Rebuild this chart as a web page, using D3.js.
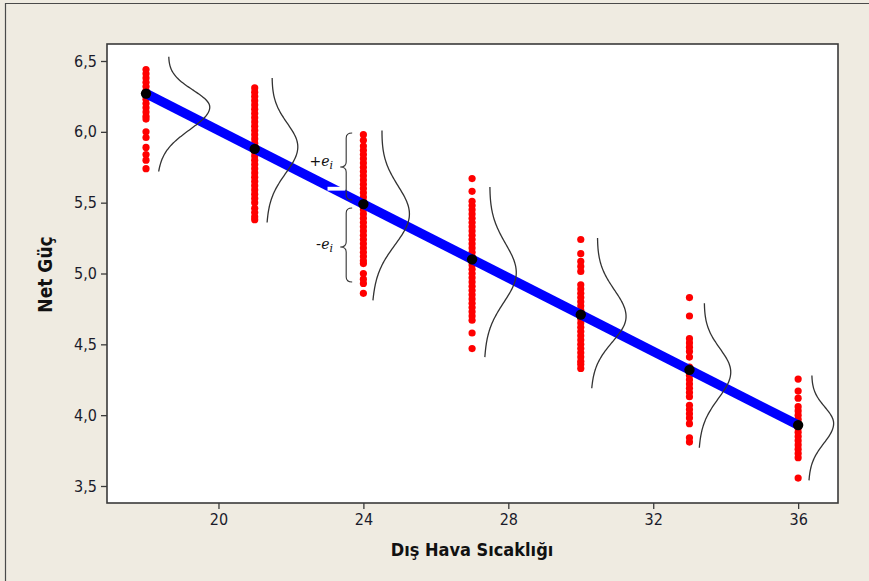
<!DOCTYPE html>
<html>
<head>
<meta charset="utf-8">
<script src="https://cdn.jsdelivr.net/npm/d3@7"></script>
<style>
  html, body { margin: 0; padding: 0; background: #EFEBE1; }
  svg { display: block; }
  .tick text { font-family: "DejaVu Sans Condensed", "DejaVu Sans", sans-serif; font-stretch: condensed; font-size: 16px; fill: #1b1b2b; }
</style>
</head>
<body>
<script>
// ---------- data ----------
const temps = [18, 21, 24, 27, 30, 33, 36];
const fitted = [6.27, 5.88, 5.49, 5.10, 4.71, 4.32, 3.93];
const obs18 = [6.44,6.41,6.38,6.35,6.32,6.29,6.26,6.23,6.20,6.17,6.14,6.11,6.09,6.00,5.96,5.89,5.84,5.80,5.74];
const obs21 = [6.31,6.28,6.25,6.22,6.19,6.16,6.13,6.10,6.07,6.04,6.01,5.98,5.95,5.92,5.89,5.86,5.83,5.80,5.77,5.74,5.71,5.68,5.65,5.62,5.59,5.56,5.53,5.50,5.46,5.43,5.40,5.38];
const obs24 = [5.98,5.94,5.90,5.87,5.84,5.81,5.78,5.75,5.72,5.69,5.66,5.63,5.60,5.57,5.54,5.51,5.48,5.45,5.42,5.39,5.36,5.33,5.30,5.27,5.24,5.21,5.18,5.15,5.12,5.09,5.07,5.00,4.96,4.93,4.86];
const obs27 = [5.67,5.58,5.51,5.48,5.45,5.42,5.39,5.36,5.33,5.30,5.27,5.24,5.21,5.18,5.15,5.12,5.09,5.06,5.03,5.00,4.97,4.94,4.91,4.88,4.85,4.82,4.79,4.76,4.73,4.70,4.67,4.58,4.47];
const obs30 = [5.24,5.14,5.085,5.05,5.015,4.92,4.89,4.86,4.83,4.80,4.77,4.74,4.71,4.68,4.65,4.62,4.59,4.56,4.53,4.50,4.47,4.44,4.41,4.38,4.36,4.33];
const obs33 = [4.83,4.70,4.54,4.51,4.48,4.45,4.41,4.34,4.31,4.28,4.25,4.22,4.19,4.16,4.13,4.07,4.04,4.01,3.98,3.94,3.84,3.81];
const obs36 = [4.255,4.17,4.12,4.06,4.03,4.00,3.97,3.94,3.91,3.88,3.85,3.82,3.79,3.76,3.73,3.70,3.556];
const observations = [obs18, obs21, obs24, obs27, obs30, obs33, obs36];

// normal-curve sketches next to each column: top, peak, bottom (x, y in data units)
const curveTopX    = [18.61, 21.47, 24.50, 27.48, 30.45, 33.40, 36.37];
const curveTopY    = [6.53, 6.38, 6.01, 5.61, 5.25, 4.79, 4.28];
const curvePeakX   = [19.76, 22.19, 25.27, 28.22, 31.25, 34.14, 36.98];
const curvePeakY   = [6.17, 5.89, 5.41, 5.00, 4.69, 4.30, 3.94];
const curveBottomX = [18.33, 21.33, 24.25, 27.34, 30.29, 33.26, 36.29];
const curveBottomY = [5.72, 5.36, 4.81, 4.41, 4.19, 3.77, 3.54];

const xTicks = [20, 24, 28, 32, 36];
const yTicks = [3.5, 4.0, 4.5, 5.0, 5.5, 6.0, 6.5];
const xTitle = "Dış Hava Sıcaklığı";
const yTitle = "Net Güç";

// residual annotation (data units)
const braceRightX = 23.69, braceTipX = 23.36, braceLabelX = 23.16;
const braceTop = [5.992, 5.462], braceMid = [5.752, 5.187], braceBottom = [5.519, 4.94];
const braceLabelY = [5.76, 5.17];
const braceSign = ["+", "-"];

// ---------- layout ----------
const W = 869, H = 581;
const plot = { left: 107, right: 838, top: 44, bottom: 503 };

const svg = d3.select("body").append("svg").attr("width", W).attr("height", H);

// outer frame
svg.append("rect").attr("x", 0).attr("y", 0).attr("width", W).attr("height", H).attr("fill", "#EFEBE1");
svg.append("line").attr("x1", 5).attr("x2", W).attr("y1", 3.5).attr("y2", 3.5).attr("stroke", "#4a4a4a").attr("stroke-width", 1.2);
svg.append("line").attr("x1", 5.5).attr("x2", 5.5).attr("y1", 3).attr("y2", H).attr("stroke", "#4a4a4a").attr("stroke-width", 1.2);

const x = d3.scaleLinear().domain([16.923, 37.10]).range([plot.left, plot.right]);
const y = d3.scaleLinear().domain([3.38, 6.62]).range([plot.bottom, plot.top]);

// plot area
svg.append("rect")
  .attr("x", plot.left).attr("y", plot.top)
  .attr("width", plot.right - plot.left).attr("height", plot.bottom - plot.top)
  .attr("fill", "#ffffff").attr("stroke", "#3a3a3a").attr("stroke-width", 1.6);

// axes
const fmt = d => d3.format(".1f")(d).replace(".", ",");
const gx = svg.append("g").attr("transform", `translate(0,${plot.bottom})`)
  .call(d3.axisBottom(x).tickValues(xTicks).tickSize(6).tickPadding(5).tickFormat(d3.format("d")));
const gy = svg.append("g").attr("transform", `translate(${plot.left},0)`)
  .call(d3.axisLeft(y).tickValues(yTicks).tickSize(6).tickPadding(4).tickFormat(fmt));
[gx, gy].forEach(g => {
  g.select(".domain").remove();
  g.selectAll(".tick line").attr("stroke", "#3a3a3a").attr("stroke-width", 1.3);
});

// axis titles
svg.append("text")
  .attr("x", 472).attr("y", 556)
  .attr("text-anchor", "middle")
  .style("font-family", '"DejaVu Sans Condensed", "DejaVu Sans", sans-serif')
  .style("font-stretch", "condensed")
  .style("font-weight", "bold").style("font-size", "18px").attr("fill", "#111")
  .text(xTitle);
svg.append("text")
  .attr("transform", `translate(52,${(plot.top + plot.bottom) / 2 + 1}) rotate(-90)`)
  .attr("text-anchor", "middle")
  .style("font-family", '"DejaVu Sans Condensed", "DejaVu Sans", sans-serif')
  .style("font-stretch", "condensed")
  .style("font-weight", "bold").style("font-size", "19px").attr("fill", "#111")
  .text(yTitle);

// red observation columns
const gObs = svg.append("g");
observations.forEach((vals, i) => {
  gObs.selectAll(null).data(vals).enter().append("circle")
    .attr("cx", x(temps[i])).attr("cy", d => y(d)).attr("r", 3.6)
    .attr("fill", "#ff0000");
});

// regression line
svg.append("line")
  .attr("x1", x(temps[0])).attr("y1", y(fitted[0]))
  .attr("x2", x(temps[temps.length - 1])).attr("y2", y(fitted[fitted.length - 1]))
  .attr("stroke", "#0000ff").attr("stroke-width", 9.5).attr("stroke-linecap", "butt");

// small white notch where the annotation box overlapped the line
svg.append("rect")
  .attr("x", x(23.01)).attr("y", y(5.612))
  .attr("width", x(23.50) - x(23.01)).attr("height", y(5.585) - y(5.612))
  .attr("fill", "#ffffff");

// fitted points
svg.selectAll(".fit").data(temps).enter().append("circle")
  .attr("cx", d => x(d)).attr("cy", (d, i) => y(fitted[i])).attr("r", 5.2)
  .attr("fill", "#000");

// normal curves
temps.forEach((t, i) => {
  const xt = x(curveTopX[i]), yt = y(curveTopY[i]);
  const xp = x(curvePeakX[i]), yp = y(curvePeakY[i]);
  const xb = x(curveBottomX[i]), yb = y(curveBottomY[i]);
  const baseAt = py => xt + (xb - xt) * (py - yt) / (yb - yt);
  const amp = xp - baseAt(yp);
  const sdUp = (yp - yt) / 2.9, sdDn = (yb - yp) / 2.9;
  const pts = [];
  for (let k = 0; k <= 80; k++) {
    const py = yt + (yb - yt) * k / 80;
    const sd = py < yp ? sdUp : sdDn;
    const z = (py - yp) / sd;
    pts.push([baseAt(py) + amp * Math.exp(-0.5 * z * z), py]);
  }
  svg.append("path").attr("d", d3.line().curve(d3.curveBasis)(pts))
    .attr("fill", "none").attr("stroke", "#333").attr("stroke-width", 1.3);
});

// residual braces and labels
braceTop.forEach((bt, i) => {
  const xr = x(braceRightX), xl = x(braceTipX), xm = (xr + xl) / 2;
  const yt = y(bt), ym = y(braceMid[i]), yb = y(braceBottom[i]);
  const r = 5;
  const p = `M${xr},${yt} Q${xm},${yt} ${xm},${yt + r} L${xm},${ym - r} Q${xm},${ym} ${xl},${ym} ` +
            `Q${xm},${ym} ${xm},${ym + r} L${xm},${yb - r} Q${xm},${yb} ${xr},${yb}`;
  svg.append("path").attr("d", p).attr("fill", "none").attr("stroke", "#333").attr("stroke-width", 1.1);
  const tx = svg.append("text")
    .attr("x", x(braceLabelX)).attr("y", y(braceLabelY[i]))
    .attr("text-anchor", "end").attr("fill", "#111")
    .style("font-family", '"DejaVu Serif", serif').style("font-size", "14px");
  tx.append("tspan").text(braceSign[i]).style("font-family", '"DejaVu Sans", sans-serif');
  tx.append("tspan").text("e").style("font-style", "italic");
  tx.append("tspan").text("i").style("font-style", "italic").style("font-size", "11px").attr("dy", 3);
});
</script>
</body>
</html>
